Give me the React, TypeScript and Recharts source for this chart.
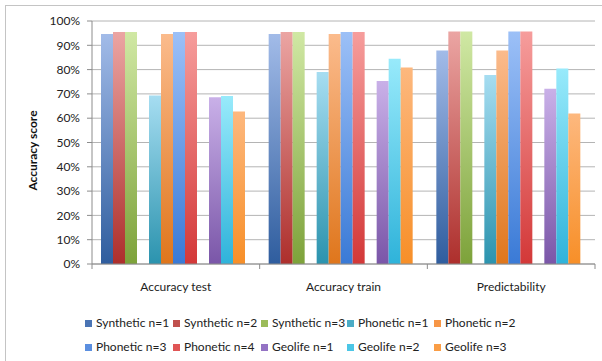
import { BarChart, Bar, XAxis, YAxis, CartesianGrid, Label } from 'recharts'

const categories = ['Accuracy test', 'Accuracy train', 'Predictability']
const syntheticN1 = [94.6, 94.6, 87.9]
const syntheticN2 = [95.5, 95.5, 95.7]
const syntheticN3 = [95.5, 95.5, 95.7]
const phoneticN1 = [69.3, 79.0, 77.8]
const phoneticN2 = [94.6, 94.6, 87.9]
const phoneticN3 = [95.5, 95.5, 95.7]
const phoneticN4 = [95.5, 95.5, 95.7]
const geolifeN1 = [68.6, 75.3, 72.1]
const geolifeN2 = [69.1, 84.5, 80.5]
const geolifeN3 = [62.8, 80.9, 61.9]
const yTicks = [0, 10, 20, 30, 40, 50, 60, 70, 80, 90, 100]

const series = [
  { key: 'syn1', name: 'Synthetic n=1', values: syntheticN1 },
  { key: 'syn2', name: 'Synthetic n=2', values: syntheticN2 },
  { key: 'syn3', name: 'Synthetic n=3', values: syntheticN3 },
  { key: 'pho1', name: 'Phonetic n=1', values: phoneticN1 },
  { key: 'pho2', name: 'Phonetic n=2', values: phoneticN2 },
  { key: 'pho3', name: 'Phonetic n=3', values: phoneticN3 },
  { key: 'pho4', name: 'Phonetic n=4', values: phoneticN4 },
  { key: 'geo1', name: 'Geolife n=1', values: geolifeN1 },
  { key: 'geo2', name: 'Geolife n=2', values: geolifeN2 },
  { key: 'geo3', name: 'Geolife n=3', values: geolifeN3 },
]

// empty slots between the dataset groups, like the blank series in the original sheet
const barOrder = ['syn1', 'syn2', 'syn3', 'gapA', 'pho1', 'pho2', 'pho3', 'pho4', 'gapB', 'geo1', 'geo2', 'geo3']

// [top, bottom, legend swatch]
const COLORS: Record<string, string[]> = {
  syn1: ['#a2bbe8', '#2f5d9e', '#4a74b4'],
  syn2: ['#eba5a3', '#ad2f2c', '#c0504d'],
  syn3: ['#d0e8a4', '#7da23a', '#9bbb59'],
  pho1: ['#a6ddf1', '#2b93ae', '#4bacc6'],
  pho2: ['#fbbb8c', '#df761c', '#f79646'],
  pho3: ['#9cc0f7', '#3a7ad6', '#5b8fe0'],
  pho4: ['#f69d9c', '#d33838', '#e05555'],
  geo1: ['#c9b0e8', '#7a56a8', '#9473c4'],
  geo2: ['#98eafb', '#2fb3da', '#4cc6e6'],
  geo3: ['#fdb87e', '#f78f28', '#fa9d45'],
}

const data = categories.map((category, i) => {
  const row: Record<string, string | number> = { category }
  series.forEach(s => { row[s.key] = s.values[i] })
  return row
})

const PLOT_LEFT = 92
const PLOT_RIGHT = 595
const BAND = (PLOT_RIGHT - PLOT_LEFT) / categories.length

function CategoryTick({ x, y, payload, index }: any) {
  const left = x - BAND / 2
  const right = x + BAND / 2
  return (
    <g>
      <line x1={left} y1={y} x2={left} y2={y + 5} stroke="#8c8c8c" />
      {index === categories.length - 1 && <line x1={right} y1={y} x2={right} y2={y + 5} stroke="#8c8c8c" />}
      <text x={x} y={y + 27} textAnchor="middle" fontSize={12} fill="#222">{payload.value}</text>
    </g>
  )
}

export default function App() {
  return (
    <div style={{ position: 'fixed', left: 0, top: 0, width: 602, height: 361, overflow: 'hidden', background: '#fff', fontFamily: 'Lato, sans-serif' }}>
      <div style={{ position: 'absolute', left: 5, top: 5, width: 620, height: 380, border: '1px solid #c4c4c4' }} />
      <BarChart
        width={602}
        height={361}
        data={data}
        margin={{ top: 21, right: 7, left: 0, bottom: 67 }}
        barCategoryGap={9}
        barGap={0}
        style={{ position: 'absolute', left: 0, top: 0 }}
      >
        <defs>
          {series.map(s => (
            <linearGradient key={s.key} id={'grad-' + s.key} x1="0" y1="0" x2="0" y2="1">
              <stop offset="0%" stopColor={COLORS[s.key][0]} />
              <stop offset="100%" stopColor={COLORS[s.key][1]} />
            </linearGradient>
          ))}
        </defs>
        <CartesianGrid vertical={false} stroke="#b4b4b4" />
        <XAxis
          dataKey="category"
          height={30}
          tickSize={0}
          tickMargin={0}
          tickLine={false}
          axisLine={{ stroke: '#8c8c8c' }}
          tick={<CategoryTick />}
        />
        <YAxis
          width={PLOT_LEFT}
          domain={[0, 100]}
          ticks={yTicks}
          interval={0}
          tickFormatter={(v: number) => `${v}%`}
          tickSize={5}
          tickMargin={7}
          axisLine={{ stroke: '#8c8c8c' }}
          tickLine={{ stroke: '#8c8c8c' }}
          tick={{ fontSize: 12, fill: '#222' }}
        >
          <Label
            content={({ viewBox }: any) => {
              const cy = viewBox.y + viewBox.height / 2 + 8
              return (
                <text x={33} y={cy} dy={4} transform={`rotate(-90, 33, ${cy})`} textAnchor="middle" fontSize={12} fontWeight="bold" fill="#111">
                  Accuracy score
                </text>
              )
            }}
          />
        </YAxis>
        {barOrder.map(k => {
          const s = series.find(x => x.key === k)
          if (!s) return <Bar key={k} dataKey={k} legendType="none" isAnimationActive={false} />
          return <Bar key={k} dataKey={k} name={s.name} fill={`url(#grad-${k})`} isAnimationActive={false} />
        })}
      </BarChart>
      <div style={{ position: 'absolute', left: 85, top: 314, display: 'grid', gridTemplateColumns: '88px 88px 86px 87px 100px', rowGap: 6, fontSize: 12, color: '#222', lineHeight: '18px' }}>
        {series.map(s => (
          <div key={s.key} style={{ display: 'flex', alignItems: 'center', whiteSpace: 'nowrap' }}>
            <span style={{ display: 'inline-block', width: 7, height: 7, marginRight: 4, background: COLORS[s.key][2] }} />
            {s.name}
          </div>
        ))}
      </div>
    </div>
  )
}
